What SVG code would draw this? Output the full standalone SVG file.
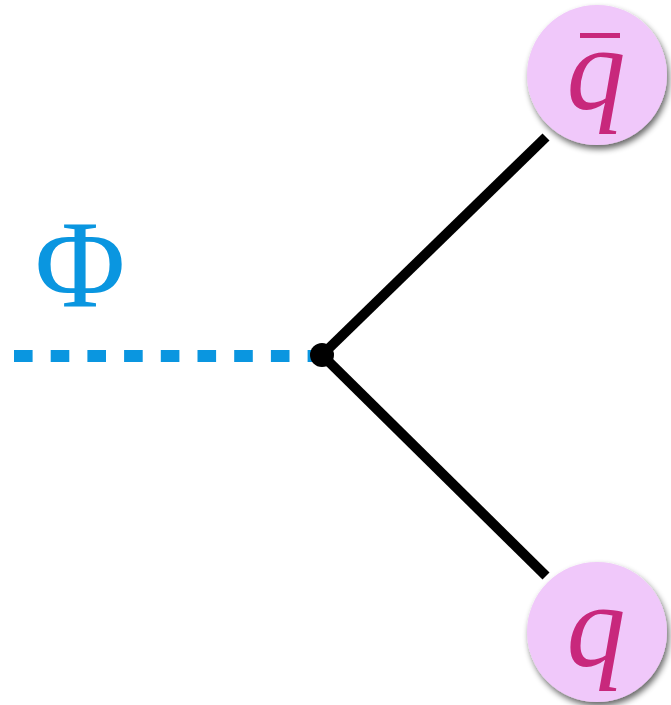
<svg xmlns="http://www.w3.org/2000/svg" width="671" height="705" viewBox="0 0 671 705">
<defs>
<filter id="sh" x="-20%" y="-20%" width="150%" height="150%">
<feGaussianBlur in="SourceAlpha" stdDeviation="3"/>
<feOffset dx="2" dy="4"/>
<feComponentTransfer><feFuncA type="linear" slope="0.6"/></feComponentTransfer>
<feMerge><feMergeNode/><feMergeNode in="SourceGraphic"/></feMerge>
</filter>
</defs>
<style>
.node{fill:#f0c8fa;filter:url(#sh)}
.lbl{font-family:"Liberation Serif",serif;font-style:italic;font-size:118px;fill:#c8287c;text-anchor:middle}
.line{stroke:#000;stroke-width:10;fill:none}
</style>
<rect width="671" height="705" fill="#fff"/>
<g id="connectors">
<line x1="14" y1="356" x2="322" y2="356" stroke="#0a96e0" stroke-width="12" stroke-dasharray="18.6 18.1"/>
<line class="line" x1="322" y1="355" x2="546" y2="137"/>
<line class="line" x1="322" y1="355" x2="546" y2="576"/>
<circle cx="322" cy="355" r="12" fill="#000"/>
</g>
<g id="phi">
<text x="80" y="307" font-family="Liberation Serif,serif" font-size="124" fill="#0a96e0" text-anchor="middle">Φ</text>
</g>
<g id="qbar">
<circle class="node" cx="597" cy="75" r="70"/>
<text class="lbl" x="596" y="109">q</text>
<rect x="580" y="33" width="40" height="5" fill="#c8287c"/>
</g>
<g id="q">
<circle class="node" cx="597" cy="632" r="70"/>
<text class="lbl" x="596" y="666">q</text>
</g>
</svg>
